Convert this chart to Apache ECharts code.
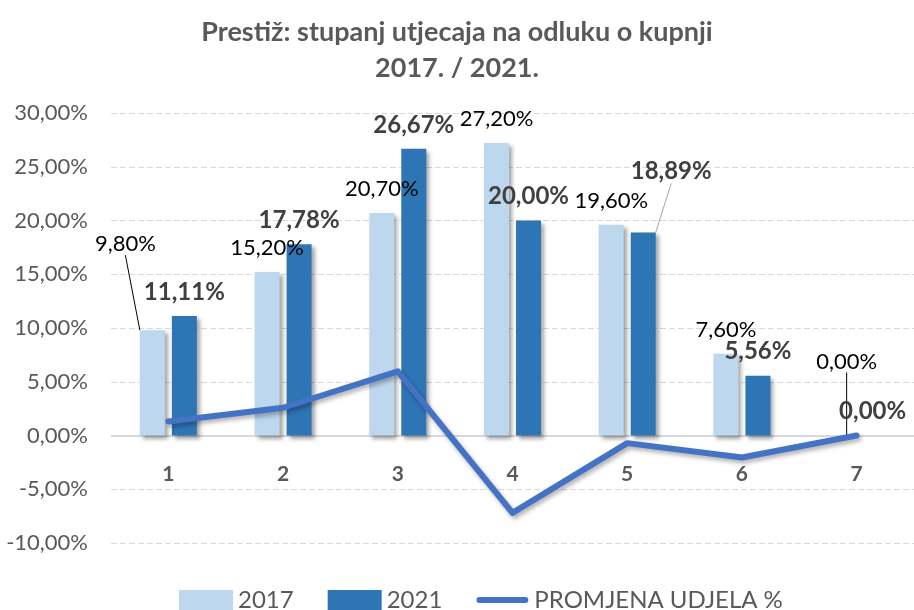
<!DOCTYPE html>
<html>
<head>
<meta charset="utf-8">
<script src="https://cdn.jsdelivr.net/npm/echarts@6/dist/echarts.min.js"></script>
<style>
  html, body { margin: 0; padding: 0; background: #fff; }
  #chart { width: 914px; height: 610px; }
</style>
</head>
<body>
<div id="chart"></div>
<script>
// podaci
const categories = ["1", "2", "3", "4", "5", "6", "7"];
const values2017 = [9.8, 15.2, 20.7, 27.2, 19.6, 7.6, 0.0];
const values2021 = [11.11, 17.78, 26.67, 20.0, 18.89, 5.56, 0.0];
const changeValues = [1.31, 2.58, 5.97, -7.2, -0.71, -2.04, 0.0];
const seriesNames = ["2017", "2021", "PROMJENA UDJELA %"];

// pomaci natpisa (dx, dy) koje je Excel rucno pomaknuo
const moved2017 = { 0: [-27, -62], 6: [6, -50] };
const moved2021 = { 4: [28, -37] };

const FONT = "Lato";
const fmt = (v) => v.toFixed(2).replace(".", ",") + "%";

const chart = echarts.init(document.getElementById("chart"));

const barShadow = {
  shadowColor: "rgba(0,0,0,0.35)",
  shadowBlur: 4,
  shadowOffsetX: 3,
  shadowOffsetY: 3,
};

function barData(values, moved, lineColor) {
  return values.map((v, i) => {
    const item = { value: v };
    if (moved[i]) {
      item.labelLine = { show: true, lineStyle: { color: lineColor, width: 1 } };
    }
    return item;
  });
}

const option = {
  backgroundColor: "#fff",
  title: {
    text: "Prestiž: stupanj utjecaja na odluku o kupnji\n2017. / 2021.",
    left: "center",
    top: 9,
    textStyle: {
      fontFamily: FONT,
      fontSize: 27,
      fontWeight: "bold",
      color: "#595959",
      lineHeight: 36,
    },
  },
  legend: {
    data: [
      { name: seriesNames[0], icon: "rect" },
      { name: seriesNames[1], icon: "rect" },
      {
        name: seriesNames[2],
        icon: "path://M0,0 h52 M3,7 h46 a3,3 0 0 1 0,6 h-46 a3,3 0 0 1 0,-6 z M0,20 h52",
        itemStyle: { color: "#4472C4", borderWidth: 0 },
      },
    ],
    bottom: -7,
    left: 174,
    itemWidth: 54,
    itemHeight: 20,
    itemGap: 34,
    textStyle: { fontFamily: FONT, fontSize: 24, color: "#595959" },
  },
  grid: { left: 111, width: 810, top: 113, bottom: 67 },
  xAxis: {
    type: "category",
    data: categories,
    axisTick: { show: false },
    axisLine: { show: false, onZero: false },
    axisLabel: {
      margin: -79,
      fontFamily: FONT,
      fontSize: 21,
      fontWeight: "bold",
      color: "#595959",
    },
  },
  yAxis: {
    type: "value",
    min: -10,
    max: 30,
    interval: 5,
    axisLine: { show: false },
    axisTick: { show: false },
    axisLabel: {
      margin: 23,
      fontFamily: FONT,
      fontSize: 22,
      color: "#595959",
      formatter: (v) => fmt(v),
    },
    splitLine: { lineStyle: { color: "#D9D9D9", type: [6, 3], width: 1 } },
  },
  series: [
    {
      name: seriesNames[0],
      type: "bar",
      data: barData(values2017, moved2017, "#000"),
      barWidth: 25,
      barGap: "28%",
      itemStyle: Object.assign({ color: "#BDD7EE" }, barShadow),
      label: {
        show: true,
        position: "top",
        distance: 13,
        fontFamily: FONT,
        fontSize: 22,
        color: "#000",
        formatter: (p) => fmt(p.value),
      },
      labelLine: { show: false },
      labelLayout: (p) => {
        const m = moved2017[p.dataIndex];
        return m ? { dx: m[0], dy: m[1] } : {};
      },
      markLine: {
        silent: true,
        symbol: "none",
        label: { show: false },
        lineStyle: { color: "#D9D9D9", type: "solid", width: 2 },
        data: [{ yAxis: 0 }],
        z: 1,
      },
      z: 2,
    },
    {
      name: seriesNames[1],
      type: "bar",
      data: barData(values2021, moved2021, "#A6A6A6"),
      barWidth: 25,
      itemStyle: Object.assign({ color: "#2E75B6" }, barShadow),
      label: {
        show: true,
        position: "top",
        distance: 12,
        fontFamily: FONT,
        fontSize: 24,
        fontWeight: "bold",
        color: "#404040",
        formatter: (p) => fmt(p.value),
      },
      labelLine: { show: false },
      labelLayout: (p) => {
        const m = moved2021[p.dataIndex];
        return m ? { dx: m[0], dy: m[1] } : {};
      },
      z: 2,
    },
    {
      name: seriesNames[2],
      type: "line",
      data: changeValues,
      symbol: "none",
      smooth: false,
      lineStyle: {
        color: "#4472C4",
        width: 6,
        cap: "round",
        join: "round",
        shadowColor: "rgba(0,0,0,0.3)",
        shadowBlur: 4,
        shadowOffsetX: 2,
        shadowOffsetY: 3,
      },
      itemStyle: { color: "#4472C4" },
      z: 5,
    },
  ],
};

chart.setOption(option);
</script>
</body>
</html>
